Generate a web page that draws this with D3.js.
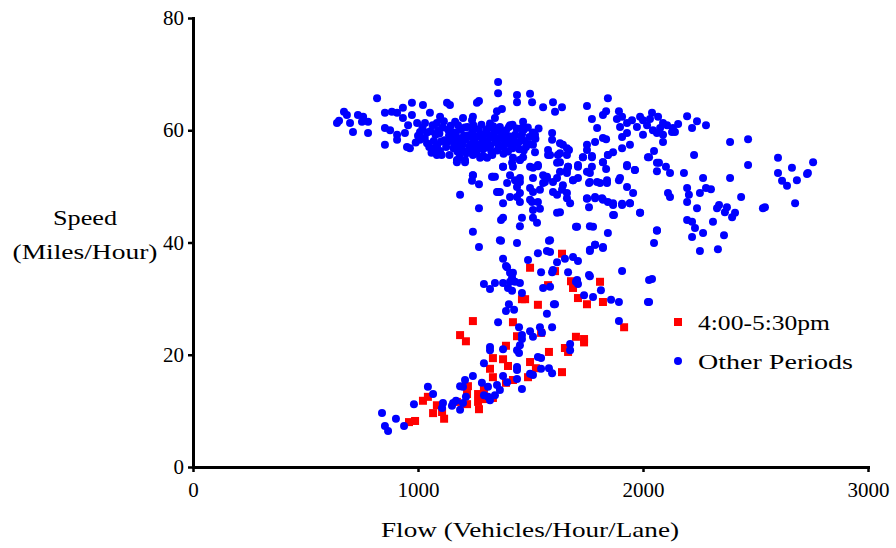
<!DOCTYPE html>
<meta charset="utf-8">
<style>
	body { margin: 0; background: #fff; }
	text { font-family: "Times New Roman", "Liberation Serif", Tinos, serif; fill: #000; }
</style>
<body>
<script src="https://cdn.jsdelivr.net/npm/d3@7/dist/d3.min.js"></script>
<script>

var width = 896,
	height = 548;

// Axis ticks
const xTicks = [0, 1000, 2000, 3000];
const yTicks = [0, 20, 40, 60, 80];

// Legend labels
const seriesNames = ["4:00-5:30pm", "Other Periods"];

// 4:00-5:30pm observations: [flow, speed]
const peakPoints = [
	[1640,38.0],[1498,35.5],[1609,34.9],[1578,32.4],[1680,33.1],[1689,31.9],[1809,33.0],
	[1711,30.1],[1751,29.0],[1822,29.4],[1462,29.9],[1476,29.9],[1533,28.9],[1244,26.0],
	[1422,25.8],[1916,24.9],[1187,23.5],[1213,22.4],[1440,23.3],[1547,23.9],[1702,23.2],
	[1738,22.8],[1738,22.2],[1653,21.2],[1667,20.5],[1391,21.6],[1582,20.5],[1333,19.4],
	[1378,19.2],[1400,18.0],[1320,17.5],[1498,18.7],[1524,17.6],[1640,16.9],[1489,16.0],
	[1333,16.0],[1422,15.5],[1391,15.0],[1222,14.4],[1293,13.9],[1218,13.0],[1267,13.0],
	[1267,11.6],[1271,10.3],[1289,12.1],[1333,12.3],[1218,11.2],[1173,11.6],[1084,11.0],
	[1067,9.6],[1107,9.8],[1022,11.8],[1044,12.5],[1116,8.6],[987,8.2],[960,8.0]
];

// Other periods observations: [flow, speed]
const otherPoints = [
	// upper left band
	[1356,68.6],[1356,66.6],[818,65.7],[1440,66.3],[1498,66.5],[1440,65.0],[1507,65.0],
	[1600,65.0],[1556,64.1],[1609,63.3],[973,64.9],[1022,64.5],[1129,64.9],[1142,64.5],
	[1262,64.9],[1271,65.2],[1351,63.4],[1373,63.8],[671,63.3],[684,62.7],[640,61.3],
	[649,61.7],[698,61.3],[733,62.7],[756,62.4],[751,61.5],[778,61.5],[711,59.7],[778,59.5],
	[853,63.1],[884,63.3],[907,63.1],[933,64.0],[933,62.2],[973,62.7],[853,60.4],[876,60.0],
	[907,59.2],[907,58.3],[853,57.4],[942,59.5],[951,57.0],[964,56.8],[956,60.9],[996,61.3],
	[1009,59.7],[1053,63.1],[1031,61.3],[1098,62.4],[1084,61.3],[1009,58.3],[1040,57.7],
	[1076,56.8],[1084,55.6],[1089,60.0],[1173,54.7],[1209,54.7],[1244,55.6],[1276,55.1],
	[1307,55.1],[1200,62.2],[1244,62.4],[1342,62.2],[1409,60.9],[1467,61.5],[1462,60.4],
	[1520,59.2],[1596,59.5],[1596,58.3],[1631,57.7],[1662,56.8],[1511,57.4],[1520,56.1],
	[1578,56.5],[1578,55.6],[1622,55.6],[1662,55.6],[1631,54.3],[1453,54.7],[1467,55.2],
	[1422,55.1],[1378,53.5],[1422,53.5],[1498,53.5],[1533,53.8],[1662,52.9],[1244,52.0],
	[1333,51.7],[1453,51.5],[1511,51.5],[1573,51.7],[1618,51.5],
	// dense cluster
	[1000,59.0],[1030,58.6],[1055,59.8],[1070,58.1],[1085,57.3],[1095,59.4],[1110,60.5],
	[1118,58.2],[1125,57.0],[1138,59.1],[1145,60.8],[1152,58.5],[1160,57.6],[1168,59.6],
	[1175,56.2],[1182,58.0],[1190,60.1],[1198,57.4],[1205,59.0],[1212,58.3],[1220,60.6],
	[1228,57.1],[1235,58.8],[1242,59.7],[1250,57.8],[1256,56.6],[1262,58.9],[1270,60.2],
	[1278,57.5],[1285,58.4],[1292,59.3],[1300,56.9],[1308,58.0],[1315,60.4],[1322,57.3],
	[1330,58.7],[1338,59.5],[1345,57.9],[1352,56.4],[1360,58.6],[1368,59.8],[1376,57.2],
	[1384,58.3],[1392,60.0],[1400,57.6],[1410,58.9],[1420,56.8],[1432,59.2],[1445,57.7],
	[1458,58.4],[1470,60.1],[1480,57.0],[1495,58.8],[1510,59.6],[1140,55.6],[1215,55.9],
	[1290,55.4],[1165,61.5],[1240,61.8],[1320,61.2],[1098,56.3],[1060,56.0],[1020,60.5],
	[990,57.8],[1380,55.8],[1420,61.0],
	[1065,60.9],[1078,59.2],[1102,58.0],[1115,61.6],[1130,57.9],[1134,60.1],[1150,59.7],
	[1158,56.8],[1172,58.7],[1178,60.9],[1186,57.0],[1195,58.6],[1200,56.3],[1208,60.5],
	[1224,59.1],[1230,56.2],[1238,57.5],[1246,60.9],[1252,58.5],[1266,57.2],[1274,59.1],
	[1282,61.0],[1288,56.6],[1296,58.0],[1304,60.0],[1312,57.0],[1318,59.0],[1326,56.2],
	[1334,60.7],[1342,58.4],[1348,59.9],[1356,57.5],[1364,60.6],[1372,58.8],[1380,57.0],
	[1388,59.4],[1396,58.1],[1404,60.6],[1414,57.4],[1426,58.3],[1438,60.3],[1450,56.6],
	[1462,59.3],[1475,58.1],[1488,60.5],[1500,57.5],[1522,58.5],[1536,60.3],[1050,57.0],
	[1040,59.6],[1105,55.6],[1185,55.2],[1260,55.9],[1330,55.6],[1400,56.2],[1470,56.4],
	// upper right band
	[1844,65.7],[1751,64.3],[1640,64.1],[1893,63.4],[1836,63.4],[1822,62.7],[1773,62.0],
	[2040,63.1],[2196,62.5],[2240,61.6],[2280,60.9],[1884,62.0],[1907,62.4],[1951,61.8],
	[1987,62.4],[2000,61.8],[2031,62.0],[2067,62.4],[2089,61.3],[2107,60.9],[2133,60.4],
	[2156,61.1],[2076,60.4],[2062,59.5],[2089,59.2],[2129,59.7],[2142,59.7],[1929,61.3],
	[1973,60.6],[2018,60.9],[2044,60.0],[2000,59.2],[1929,59.5],[1898,60.6],[2218,60.4],
	[1796,60.4],[1907,58.8],[2089,57.9],[1942,57.4],[1907,56.8],[1787,57.9],[1822,58.6],
	[1836,58.4],[1751,57.4],[1751,56.5],[1671,56.5],[1644,57.4],[2387,57.9],[2467,58.4],
	[2227,55.6],[2049,56.3],[2027,55.2],[1844,55.6],[1867,56.1],[1773,55.2],[1733,55.2],
	[2071,54.2],[2102,53.5],[2120,52.4],[2062,52.7],[1929,53.6],[1964,52.9],[1822,54.3],
	[1836,53.1],[1773,53.5],[1764,52.4],[1711,53.5],[1667,53.5],[1662,52.4],[2467,53.8],
	[2600,55.1],[2756,54.3],[2662,53.3],[2600,52.4],[2729,52.2],[2182,52.4],[2267,51.5],
	[2387,51.5],[2618,51.0],[2684,51.1],[2640,50.1],[1893,51.1],[1929,49.9],[1956,48.8],
	[1840,51.1],[1809,50.6],[1760,50.6],[1689,51.1],[1711,51.5],[2196,49.7],[2204,48.5],
	[2196,47.2],[2253,48.8],[2280,49.7],[2302,49.5],[2111,48.8],[2120,48.1],[2436,48.1],
	[2240,46.1],[2329,46.1],[2338,46.7],[2373,46.3],[2364,45.4],[2409,45.3],[2396,44.5],
	[2533,46.1],[2542,46.3],[2676,47.0],[1751,47.9],[1787,48.1],[1818,47.9],[1844,47.2],
	[1867,46.7],[1907,46.7],[1942,47.0],[1987,45.3],[1871,44.9],[1760,46.3],[1702,42.8],
	[1764,42.9],[1778,42.8],[1844,41.7],[2062,42.1],[2049,39.9],[2196,44.0],[2218,43.7],
	[2231,42.6],[2267,41.7],[2311,43.7],[2360,41.3],[2218,41.0],[2253,38.5],[2333,38.8],
	[1787,39.6],[1822,39.0],[1764,38.7],[2733,52.4],
	// middle region
	[1173,54.3],[1209,54.3],[1244,52.0],[1240,51.0],[1271,50.4],[1329,51.7],[1342,51.7],
	[1378,53.5],[1418,54.2],[1453,54.7],[1409,52.0],[1431,51.1],[1511,53.3],[1533,53.6],
	[1556,52.0],[1564,50.8],[1618,54.2],[1667,53.5],[1631,52.6],[1689,51.1],[1711,53.8],
	[1751,52.6],[1764,50.8],[1796,50.8],[1822,54.3],[1840,50.6],[1844,55.6],[1898,51.5],
	[1929,53.8],[1964,52.9],[2022,55.2],[2062,54.2],[1587,55.6],[1631,55.9],[1733,55.2],
	[1773,55.4],[1351,49.0],[1364,49.0],[1511,49.0],[1453,48.8],[1498,47.6],[1600,50.8],
	[1644,50.2],[1662,48.8],
	[1187,48.5],[1271,46.1],[1244,41.9],[1271,39.2],[1364,40.4],[1440,39.9],[1369,44.0],
	[1378,44.4],[1453,42.9],[1462,44.4],[1511,44.4],[1529,43.5],[1511,45.8],[1542,46.0],
	[1507,47.2],[1533,47.2],[1498,49.7],[1542,49.4],[1556,50.6],[1573,51.5],[1453,50.8],
	[1440,49.9],[1396,50.6],[1356,49.0],[1409,48.1],[1378,47.0],[1440,48.1],[1453,47.2],
	[1600,49.0],[1618,48.5],[1640,49.4],[1662,47.9],[1676,47.0],[1631,45.4],[1618,45.3],
	[1587,40.4],[1707,42.8],[1751,47.8],[1787,47.9],[1822,47.6],[1867,47.0],[1907,46.9],
	[1942,47.0],[1867,44.9],[1987,45.3],[2062,42.2],[2040,33.5],[2027,29.4],
	// lower band
	[1369,40.3],[1582,40.3],[1533,38.1],[1573,38.5],[1587,38.3],[1489,36.9],[1378,37.1],
	[1391,35.8],[1409,34.6],[1422,34.6],[1618,36.5],[1653,37.1],[1689,37.4],[1711,36.7],
	[1764,38.5],[1787,39.6],[1822,39.2],[1547,34.7],[1596,34.7],[1600,35.1],[1667,34.7],
	[1760,34.2],[1907,34.9],[1293,32.6],[1320,31.7],[1342,32.8],[1378,32.8],[1409,33.0],
	[1431,33.0],[1453,32.8],[1400,31.9],[1418,31.4],[1462,31.0],[1556,31.9],[1587,32.1],
	[1702,33.0],[1711,32.6],[1738,30.6],[1778,30.3],[1813,31.5],[1858,29.8],[1893,29.4],
	[2022,29.4],[2027,33.3],[1404,29.0],[1391,27.8],[1427,28.0],[1573,27.3],[1604,29.0],
	[1418,33.7],[1396,35.6],[1707,33.3],[1764,34.0],[1609,29.0],
	[1356,25.8],[1449,24.9],[1462,23.5],[1462,22.8],[1498,24.2],[1511,23.2],[1542,24.9],
	[1551,23.9],[1596,24.9],[1893,26.0],[1320,21.4],[1320,20.8],[1378,21.0],[1440,20.8],
	[1453,21.7],[1449,20.3],[1676,21.9],[1676,20.8],[1533,19.6],[1547,19.4],[1293,18.5],
	[1440,17.8],[1440,17.3],[1547,17.5],[1582,17.6],[1596,16.7],[1498,16.6],[1511,16.4],
	[1378,16.2],[1396,15.1],[1440,15.7],[1462,13.9],[1244,16.2],[1209,15.5],[1187,14.4],
	[1200,14.3],[1284,15.0],[1311,14.3],[1351,14.6],[1364,13.7],[1293,12.8],[1311,12.5],
	[1342,12.8],[1320,11.9],[1044,14.3],[1067,13.0],[982,11.2],[1111,11.4],[1107,10.5],
	[1156,11.4],[1169,11.8],[1151,10.9],[1187,10.2],[1200,11.4],[1213,12.5],[840,9.6],
	[902,8.6],[853,7.3],[867,6.4],[938,7.3]
];

const x = d3.scaleLinear().domain([0, 3000]).range([193, 868]);
const y = d3.scaleLinear().domain([0, 80]).range([467, 18]);

const svg = d3.select("body").append("svg")
	.attr("width", width)
	.attr("height", height);

const fontStack = "'Times New Roman', 'Liberation Serif', Tinos, serif";

// Axes
const xAxis = svg.append("g")
	.attr("transform", "translate(0,467)")
	.call(d3.axisBottom(x).tickValues(xTicks).tickFormat(d3.format("d"))
		.tickSize(5).tickSizeOuter(0).tickPadding(10));

const yAxis = svg.append("g")
	.attr("transform", "translate(193,0)")
	.call(d3.axisLeft(y).tickValues(yTicks).tickSize(5).tickSizeOuter(0).tickPadding(4));

[xAxis, yAxis].forEach(function (g) {
	g.attr("font-family", null);
	g.select(".domain").attr("stroke", "#000").attr("stroke-width", 3)
		.attr("stroke-linecap", "square");
	g.selectAll(".tick line").attr("stroke", "#000").attr("stroke-width", 2.5);
	g.selectAll(".tick text")
		.style("font-family", fontStack)
		.style("font-size", "21px")
		.attr("fill", "#000");
});

// Axis titles
svg.append("text")
	.attr("x", 530).attr("y", 537)
	.attr("text-anchor", "middle")
	.style("font-size", "21px")
	.attr("textLength", 298).attr("lengthAdjust", "spacingAndGlyphs")
	.text("Flow (Vehicles/Hour/Lane)");

svg.append("text")
	.attr("x", 85).attr("y", 225)
	.attr("text-anchor", "middle")
	.style("font-size", "21px")
	.attr("textLength", 64).attr("lengthAdjust", "spacingAndGlyphs")
	.text("Speed");

svg.append("text")
	.attr("x", 85).attr("y", 259)
	.attr("text-anchor", "middle")
	.style("font-size", "21px")
	.attr("textLength", 145).attr("lengthAdjust", "spacingAndGlyphs")
	.text("(Miles/Hour)");

// Points
svg.append("g").selectAll("rect")
	.data(peakPoints)
	.enter().append("rect")
	.attr("x", d => x(d[0]) - 4)
	.attr("y", d => y(d[1]) - 4)
	.attr("width", 8)
	.attr("height", 8)
	.attr("fill", "#ff0000");

svg.append("g").selectAll("circle")
	.data(otherPoints)
	.enter().append("circle")
	.attr("cx", d => x(d[0]))
	.attr("cy", d => y(d[1]))
	.attr("r", 4)
	.attr("fill", "#0000ff");

// Legend
const legend = svg.append("g").attr("transform", "translate(678,322)");
legend.append("rect")
	.attr("x", -4).attr("y", -4).attr("width", 8).attr("height", 8)
	.attr("fill", "#ff0000");
legend.append("circle")
	.attr("cx", 0).attr("cy", 39).attr("r", 4)
	.attr("fill", "#0000ff");
legend.selectAll("text.label")
	.data(seriesNames)
	.enter().append("text")
	.attr("class", "label")
	.attr("x", 20)
	.attr("y", (d, i) => 8 + i * 39)
	.style("font-size", "21px")
	.attr("textLength", (d, i) => i === 0 ? 132 : 155)
	.attr("lengthAdjust", "spacingAndGlyphs")
	.text(d => d);
</script>
</body>
